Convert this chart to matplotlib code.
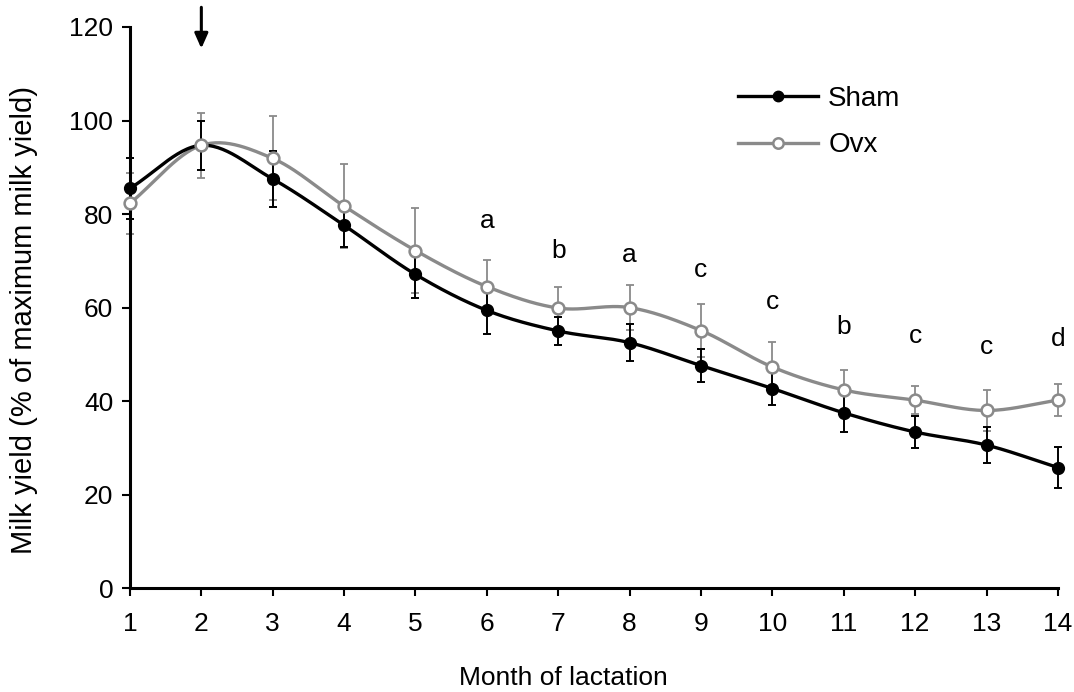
import numpy as np
import matplotlib
matplotlib.use("Agg")
import matplotlib.pyplot as plt

plt.rcParams['font.family'] = ['Liberation Sans', 'DejaVu Sans']

months = [1, 2, 3, 4, 5, 6, 7, 8, 9, 10, 11, 12, 13, 14]
sham = [85.5, 94.7, 87.5, 77.6, 67.1, 59.4, 55.0, 52.5, 47.6, 42.7, 37.5, 33.4, 30.6, 25.8]
sham_se = [6.5, 5.3, 6.0, 4.6, 5.0, 5.0, 3.0, 4.0, 3.6, 3.6, 4.0, 3.5, 3.8, 4.3]
ovx = [82.3, 94.7, 91.9, 81.7, 72.2, 64.5, 59.9, 60.0, 55.1, 47.3, 42.4, 40.2, 38.0, 40.2]
ovx_se = [6.5, 7.0, 9.0, 9.0, 9.0, 5.6, 4.4, 4.8, 5.6, 5.4, 4.3, 3.0, 4.3, 3.4]
sig_labels = ['', '', '', '', '', 'a', 'b', 'a', 'c', 'c', 'b', 'c', 'c', 'd']
sig_y = [0, 0, 0, 0, 0, 78.6, 72.2, 71.2, 68.0, 61.2, 55.8, 54.0, 51.6, 53.3]


def catmull_rom(x, y, n=30):
    x = np.asarray(x, float)
    y = np.asarray(y, float)
    px = np.concatenate([[2 * x[0] - x[1]], x, [2 * x[-1] - x[-2]]])
    py = np.concatenate([[2 * y[0] - y[1]], y, [2 * y[-1] - y[-2]]])
    xs, ys = [], []
    t = np.linspace(0, 1, n, endpoint=False)
    for i in range(1, len(px) - 2):
        p0, p1, p2, p3 = py[i - 1], py[i], py[i + 1], py[i + 2]
        q0, q1, q2, q3 = px[i - 1], px[i], px[i + 1], px[i + 2]
        for (a0, a1, a2, a3, out) in ((q0, q1, q2, q3, xs), (p0, p1, p2, p3, ys)):
            out.extend(0.5 * ((2 * a1) + (-a0 + a2) * t +
                              (2 * a0 - 5 * a1 + 4 * a2 - a3) * t ** 2 +
                              (-a0 + 3 * a1 - 3 * a2 + a3) * t ** 3))
    xs.append(x[-1])
    ys.append(y[-1])
    return np.array(xs), np.array(ys)


fig = plt.figure(figsize=(10.74, 6.92), dpi=100)
ax = fig.add_axes([0.121, 0.150, 0.864, 0.811])

gray = '#8a8a8a'
ax.errorbar(months, ovx, yerr=ovx_se, fmt='none', ecolor=gray, elinewidth=1.3,
            capsize=3.2, capthick=1.3, zorder=2, clip_on=False)
ax.errorbar(months, sham, yerr=sham_se, fmt='none', ecolor='black', elinewidth=1.4,
            capsize=3.2, capthick=1.4, zorder=3, clip_on=False)

sx, sy = catmull_rom(months, sham)
ox, oy = catmull_rom(months, ovx)
ax.plot(ox, oy, color=gray, lw=2.4, zorder=4, clip_on=False)
ax.plot(sx, sy, color='black', lw=2.4, zorder=5, clip_on=False)
ax.plot(months, sham, 'o', color='black', ms=8.5, zorder=6, clip_on=False)
ax.plot(months, ovx, 'o', mfc='white', mec=gray, mew=1.8, ms=8.5, zorder=7, clip_on=False)

for m, lab, yv in zip(months, sig_labels, sig_y):
    if lab:
        ax.text(m, yv, lab, ha='center', va='center', fontsize=19)

h1, = ax.plot([], [], '-o', color='black', lw=2.4, ms=7.5)
h2, = ax.plot([], [], '-o', color=gray, mfc='white', mec=gray, mew=1.8, lw=2.4, ms=7.5)
ax.legend([h1, h2], ['Sham', 'Ovx'], loc='upper left', bbox_to_anchor=(0.628, 0.939),
          frameon=False, fontsize=20, handlelength=2.9, handletextpad=0.36,
          labelspacing=0.73, borderpad=0.4)

ax.annotate('', xy=(2, 114.8), xytext=(2, 124.8),
            arrowprops=dict(arrowstyle='-|>,head_length=0.9,head_width=0.4',
                            color='black', lw=2.2), annotation_clip=False)

ax.set_xlim(1, 14)
ax.set_ylim(0, 120)
ax.set_xticks(months)
ax.set_yticks([0, 20, 40, 60, 80, 100, 120])
ax.tick_params(axis='both', labelsize=19, direction='out', length=6, width=1.5)
ax.tick_params(axis='x', pad=11)
ax.tick_params(axis='y', pad=6)
for s in ['top', 'right']:
    ax.spines[s].set_visible(False)
for s in ['left', 'bottom']:
    ax.spines[s].set_linewidth(2.2)
ax.set_xlabel('Month of lactation', fontsize=19)
ax.xaxis.set_label_coords(0.467, -0.138)
ax.set_ylabel('Milk yield (% of maximum milk yield)', fontsize=21, va='center', ha='center')
ax.yaxis.set_label_coords(-0.114, 0.478)

fig.savefig('out.png', dpi=100)
